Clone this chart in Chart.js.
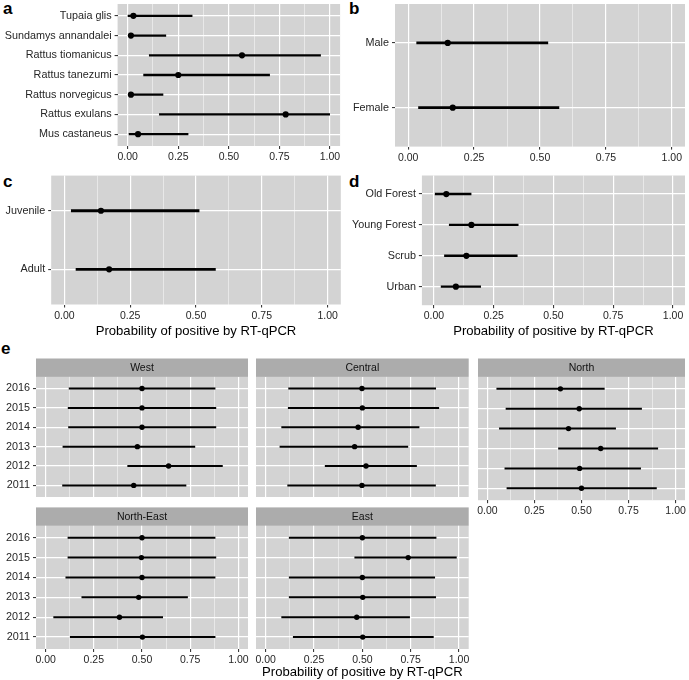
<!DOCTYPE html>
<html>
<head>
<meta charset="utf-8">
<script src="https://cdn.jsdelivr.net/npm/chart.js@4.4.1/dist/chart.umd.min.js"></script>
<style>
  html, body { margin: 0; padding: 0; background: #fff; }
  body { width: 689px; height: 680px; position: relative; overflow: hidden; font-family: "Liberation Sans", Arial, sans-serif; }
  canvas { position: absolute; }
  .tag { position: absolute; font-weight: bold; font-size: 17px; line-height: 1; color: #000; }
</style>
</head>
<body>
<div class="tag" style="left:3px;top:0">a</div>
<div class="tag" style="left:349px;top:0">b</div>
<div class="tag" style="left:3px;top:173px">c</div>
<div class="tag" style="left:349px;top:173px">d</div>
<div class="tag" style="left:1px;top:340px">e</div>

<canvas id="chartA" width="345" height="170" style="left:0;top:0"></canvas>
<canvas id="chartB" width="344" height="170" style="left:345px;top:0"></canvas>
<canvas id="chartC" width="345" height="169" style="left:0;top:170px"></canvas>
<canvas id="chartD" width="344" height="169" style="left:345px;top:170px"></canvas>
<canvas id="chartWest" width="252" height="143" style="left:0;top:358px"></canvas>
<canvas id="chartCentral" width="222" height="143" style="left:252px;top:358px"></canvas>
<canvas id="chartNorth" width="215" height="162" style="left:474px;top:358px"></canvas>
<canvas id="chartNorthEast" width="252" height="170" style="left:0;top:507px"></canvas>
<canvas id="chartEast" width="222" height="173" style="left:252px;top:507px"></canvas>

<script>
// Données (estimation + intervalle)
const speciesLabels = ['Tupaia glis', 'Sundamys annandalei', 'Rattus tiomanicus', 'Rattus tanezumi', 'Rattus norvegicus', 'Rattus exulans', 'Mus castaneus'];
const speciesEst  = [0.028, 0.016, 0.565, 0.250, 0.016, 0.781, 0.051];
const speciesLow  = [0.000, 0.002, 0.105, 0.077, 0.004, 0.155, 0.005];
const speciesHigh = [0.320, 0.190, 0.955, 0.703, 0.176, 1.000, 0.300];

const sexLabels = ['Male', 'Female'];
const sexEst  = [0.150, 0.169];
const sexLow  = [0.031, 0.038];
const sexHigh = [0.531, 0.573];

const ageLabels = ['Juvenile', 'Adult'];
const ageEst  = [0.139, 0.170];
const ageLow  = [0.025, 0.043];
const ageHigh = [0.513, 0.575];

const habitatLabels = ['Old Forest', 'Young Forest', 'Scrub', 'Urban'];
const habitatEst  = [0.052, 0.157, 0.136, 0.092];
const habitatLow  = [0.004, 0.063, 0.043, 0.029];
const habitatHigh = [0.157, 0.354, 0.350, 0.197];

const years = ['2016', '2015', '2014', '2013', '2012', '2011'];

const westEst  = [0.500, 0.500, 0.500, 0.476, 0.638, 0.457];
const westLow  = [0.120, 0.115, 0.117, 0.088, 0.424, 0.086];
const westHigh = [0.881, 0.885, 0.885, 0.776, 0.919, 0.730];

const centralEst  = [0.498, 0.500, 0.478, 0.460, 0.519, 0.498];
const centralLow  = [0.117, 0.115, 0.081, 0.072, 0.306, 0.112];
const centralHigh = [0.881, 0.897, 0.795, 0.737, 0.782, 0.880];

const northEst  = [0.388, 0.488, 0.431, 0.602, 0.490, 0.500];
const northLow  = [0.048, 0.097, 0.062, 0.376, 0.091, 0.102];
const northHigh = [0.623, 0.821, 0.683, 0.907, 0.816, 0.900];

const northEastEst  = [0.500, 0.497, 0.500, 0.483, 0.383, 0.502];
const northEastLow  = [0.114, 0.114, 0.103, 0.186, 0.040, 0.126];
const northEastHigh = [0.881, 0.885, 0.881, 0.738, 0.609, 0.881];

const eastEst  = [0.500, 0.737, 0.500, 0.502, 0.471, 0.502];
const eastLow  = [0.120, 0.459, 0.120, 0.120, 0.081, 0.141];
const eastHigh = [0.883, 0.988, 0.876, 0.881, 0.746, 0.869];

// graduations x (majeures + mineures)
const xTicks = [0, 0.125, 0.25, 0.375, 0.5, 0.625, 0.75, 0.875, 1];
const axisTitle = 'Probability of positive by RT-qPCR';

Chart.defaults.font.family = '"Liberation Sans", Arial, sans-serif';

const panelBg = '#d3d3d3';
const stripBg = '#acacac';
const tickCol = '#262626';
const stripH = 18.4;

function isMajor(v) {
    return Math.abs(v * 4 - Math.round(v * 4)) < 1e-6;
}

// fond gris du panneau + bandeau de facette
const panelPlugin = {
    id: 'panelBg',
    beforeDraw(chart, args, opts) {
        const { ctx, chartArea: a } = chart;
        ctx.save();
        ctx.fillStyle = panelBg;
        ctx.fillRect(a.left, a.top, a.right - a.left, a.bottom - a.top);
        if (opts.strip) {
            ctx.fillStyle = stripBg;
            ctx.fillRect(a.left, a.top - stripH, a.right - a.left, stripH);
            ctx.fillStyle = '#111';
            ctx.font = '10.5px "Liberation Sans", Arial, sans-serif';
            ctx.textAlign = 'center';
            ctx.textBaseline = 'middle';
            ctx.fillText(opts.strip, (a.left + a.right) / 2, a.top - stripH / 2 + 0.5);
        }
        ctx.restore();
    }
};

function makePanel(id, p) {
    const n = p.labels.length;
    const datasets = p.low.map((lo, i) => ({
        data: [{ x: lo, y: i + 1 }, { x: p.high[i], y: i + 1 }],
        showLine: true,
        borderColor: '#000',
        borderWidth: p.lw,
        pointRadius: 0,
        order: 1
    }));
    datasets.push({
        data: p.est.map((v, i) => ({ x: v, y: i + 1 })),
        pointRadius: p.r,
        pointBackgroundColor: '#000',
        pointBorderWidth: 0,
        order: 0
    });

    return new Chart(document.getElementById(id), {
        type: 'scatter',
        data: { datasets },
        options: {
            responsive: false,
            animation: false,
            events: [],
            layout: { padding: { left: 0, top: p.padTop, right: p.padRight, bottom: 0 } },
            plugins: {
                legend: { display: false },
                tooltip: { enabled: false },
                panelBg: { strip: p.strip || null }
            },
            scales: {
                x: {
                    type: 'linear',
                    min: -0.05,
                    max: 1.05,
                    bounds: 'data',
                    afterBuildTicks: s => { s.ticks = xTicks.map(v => ({ value: v })); },
                    afterFit: s => { s.height = p.axisH; s.paddingLeft = 0; s.paddingRight = 0; },
                    ticks: {
                        display: p.showX,
                        autoSkip: false,
                        maxRotation: 0,
                        padding: 2,
                        color: tickCol,
                        font: { size: 10.5 },
                        callback: v => isMajor(v) ? v.toFixed(2) : ''
                    },
                    grid: {
                        color: c => (c.tick && !isMajor(c.tick.value)) ? 'rgba(255,255,255,0.8)' : '#ffffff',
                        lineWidth: c => (c.tick && !isMajor(c.tick.value)) ? 0.6 : 1.2,
                        tickColor: c => (c.tick && !isMajor(c.tick.value)) ? 'rgba(0,0,0,0)' : tickCol,
                        tickWidth: 1,
                        tickLength: 3,
                        drawTicks: p.showX
                    },
                    border: { display: false },
                    title: {
                        display: !!p.title,
                        text: p.title || '',
                        color: '#000',
                        font: { size: 13.1 },
                        padding: { top: 0, bottom: 0 }
                    }
                },
                y: {
                    type: 'linear',
                    reverse: true,
                    min: 0.4,
                    max: n + 0.6,
                    bounds: 'data',
                    afterBuildTicks: s => { s.ticks = p.labels.map((l, i) => ({ value: i + 1 })); },
                    afterFit: s => { s.width = p.yW; s.paddingTop = 0; s.paddingBottom = 0; },
                    ticks: {
                        display: p.showY,
                        autoSkip: false,
                        padding: 3,
                        color: tickCol,
                        font: { size: 10.8 },
                        callback: v => p.labels[Math.round(v) - 1]
                    },
                    grid: {
                        color: '#ffffff',
                        lineWidth: 1.2,
                        tickColor: tickCol,
                        tickWidth: 1,
                        tickLength: 3,
                        drawTicks: p.showY
                    },
                    border: { display: false }
                }
            }
        },
        plugins: [panelPlugin]
    });
}

// a - espèces
makePanel('chartA', {
    labels: speciesLabels, est: speciesEst, low: speciesLow, high: speciesHigh,
    yW: 117.6, padTop: 2, padRight: 4.9, axisH: 24,
    showX: true, showY: true, lw: 2.3, r: 3.1
});
// b - sexe
makePanel('chartB', {
    labels: sexLabels, est: sexEst, low: sexLow, high: sexHigh,
    yW: 50, padTop: 1.4, padRight: 0.7, axisH: 23.4,
    showX: true, showY: true, lw: 2.8, r: 3.1
});
// c - âge
makePanel('chartC', {
    labels: ageLabels, est: ageEst, low: ageLow, high: ageHigh,
    yW: 51.2, padTop: 5.6, padRight: 4.2, axisH: 34.5,
    showX: true, showY: true, lw: 2.8, r: 3.1, title: axisTitle
});
// d - habitat
makePanel('chartD', {
    labels: habitatLabels, est: habitatEst, low: habitatLow, high: habitatHigh,
    yW: 76.9, padTop: 5.5, padRight: 0.9, axisH: 33.8,
    showX: true, showY: true, lw: 2.4, r: 3.1, title: axisTitle
});

// e - régions par année
makePanel('chartWest', {
    labels: years, est: westEst, low: westLow, high: westHigh, strip: 'West',
    yW: 36, padTop: 18.9, padRight: 3.3, axisH: 0.8,
    showX: false, showY: true, lw: 2.0, r: 2.7
});
makePanel('chartCentral', {
    labels: years, est: centralEst, low: centralLow, high: centralHigh, strip: 'Central',
    yW: 3.3, padTop: 18.9, padRight: 5.3, axisH: 0.8,
    showX: false, showY: false, lw: 2.0, r: 2.7
});
makePanel('chartNorth', {
    labels: years, est: northEst, low: northLow, high: northHigh, strip: 'North',
    yW: 1.3, padTop: 18.9, padRight: 1, axisH: 19.8,
    showX: true, showY: false, lw: 2.0, r: 2.7
});
makePanel('chartNorthEast', {
    labels: years, est: northEastEst, low: northEastLow, high: northEastHigh, strip: 'North-East',
    yW: 36, padTop: 18.8, padRight: 3.3, axisH: 28,
    showX: true, showY: true, lw: 2.0, r: 2.7
});
makePanel('chartEast', {
    labels: years, est: eastEst, low: eastLow, high: eastHigh, strip: 'East',
    yW: 3.3, padTop: 18.8, padRight: 5.3, axisH: 31,
    showX: true, showY: false, lw: 2.0, r: 2.7, title: axisTitle
});
</script>
</body>
</html>
